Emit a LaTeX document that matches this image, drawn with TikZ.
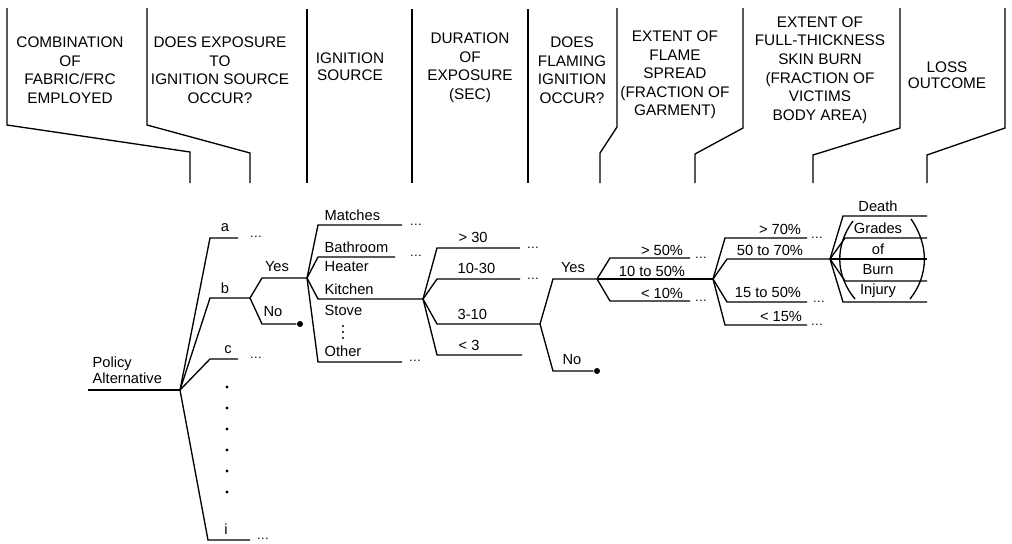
\documentclass[tikz,border=0pt]{standalone}
\usepackage{fontspec}
\setmainfont{Liberation Sans}
\tikzset{
  hdr/.style={font=\fontsize{11.5}{13.9}\selectfont,align=center,inner sep=0pt},
  lbl/.style={font=\fontsize{11}{13}\selectfont,inner sep=0pt},
  more/.style={font=\fontsize{9.5}{11}\selectfont,inner sep=0pt},
  enddot/.style={circle,fill,inner sep=0pt,minimum size=4.5pt},
}
\begin{document}
\begin{tikzpicture}[x=0.75pt,y=-0.75pt,line width=1pt]
\useasboundingbox (0,0) rectangle (1012,543);
% column heads
\draw (7,8) -- (7,125) -- (190,152) -- (190,183);
\draw (147,8) -- (147,125) -- (250,153) -- (250,183);
\draw (307,9) -- (307,183);
\draw (412,9) -- (412,183);
\draw (528,9) -- (528,183);
\draw (617,8) -- (617,127) -- (600,153) -- (600,183);
\draw (743,8) -- (743,128) -- (695,154) -- (695,183);
\draw (900,8) -- (900,128) -- (813,155) -- (813,183);
\draw (1005,8) -- (1005,128) -- (927,155) -- (927,183);
\node[hdr] (hfab) at (70,70) {COMBINATION\\OF\\FABRIC/FRC\\EMPLOYED};
\node[hdr] (hexp) at (220,70) {DOES EXPOSURE\\TO\\IGNITION SOURCE\\OCCUR?};
\node[hdr,font=\fontsize{11.5}{12.8}\selectfont] (hign) at (350,66.5) {IGNITION\\SOURCE};
\node[hdr] (hdur) at (470,67.5) {DURATION\\OF\\EXPOSURE\\(SEC)};
\node[hdr] (hflm) at (572,70) {DOES\\FLAMING\\IGNITION\\OCCUR?};
\node[hdr] (hspr) at (675,75) {EXTENT OF\\FLAME\\SPREAD\\(FRACTION OF\\GARMENT)};
\node[hdr] (hbrn) at (820,70) {EXTENT OF\\FULL-THICKNESS\\SKIN BURN\\(FRACTION OF\\VICTIMS\\BODY AREA)};
\node[hdr,font=\fontsize{11.5}{12}\selectfont] (hout) at (947,75) {LOSS\\OUTCOME};
% policy alternatives
\coordinate (pa) at (88,390);
\coordinate (root) at (180,390);
\coordinate (a1) at (210,238); \coordinate (a2) at (238,238);
\coordinate (b1) at (210,298); \coordinate (b) at (250,298);
\coordinate (c1) at (210,359); \coordinate (c2) at (238,359);
\coordinate (i1) at (208,540); \coordinate (i2) at (250,540);
\node[lbl,align=left,anchor=west,font=\fontsize{11}{12}\selectfont] (policy) at (92,370) {Policy\\Alternative};
\node[lbl] (la) at (225,228) {a};
\node[lbl] (lb) at (225,288) {b};
\node[lbl] (lc) at (228,350) {c};
\node[lbl] (li) at (226,529) {i};
\node[more] (da) at (256,237) {\ldots};
\node[more] (dc) at (256,358) {\ldots};
\node[more] (di) at (263,539) {\ldots};
\draw (pa) -- (root);
\draw (root) -- (a1) -- (a2);
\draw (root) -- (b1) -- (b);
\draw (root) -- (c1) -- (c2);
\draw (root) -- (i1) -- (i2);
\foreach \y in {387,408,429,450,471,492}
  \fill (227,\y) circle[radius=1.2pt];
% exposure
\coordinate (ey1) at (262,278); \coordinate (ign) at (307,278);
\coordinate (en1) at (262,324);
\node[enddot] (en2) at (300,324) {};
\node[lbl] (ly1) at (277,267) {Yes};
\node[lbl] (ln1) at (273,312) {No};
\draw (b) -- (ey1) -- (ign);
\draw (b) -- (en1) -- (en2);
% ignition source
\coordinate (m1) at (318,225); \coordinate (m2) at (402,225);
\coordinate (ba1) at (318,257); \coordinate (ba2) at (395,257);
\coordinate (ki1) at (318,299); \coordinate (dur) at (423,299);
\coordinate (o1) at (318,362); \coordinate (o2) at (402,362);
\node[lbl,anchor=west] (lm) at (324,215) {Matches};
\node[lbl,anchor=west] (lba) at (324,247) {Bathroom};
\node[lbl,anchor=west] (lhe) at (324,267) {Heater};
\node[lbl,anchor=west] (lki) at (324,289) {Kitchen};
\node[lbl,anchor=west] (lst) at (324,310) {Stove};
\node[lbl,anchor=west] (lo) at (324,351) {Other};
\foreach \y in {326,332,338}
  \fill (343,\y) circle[radius=0.9pt];
\node[more] (dm) at (416,225) {\ldots};
\node[more] (dba) at (416,256) {\ldots};
\node[more] (do) at (415,361) {\ldots};
\draw (ign) -- (m1) -- (m2);
\draw (ign) -- (ba1) -- (ba2);
\draw (ign) -- (ki1) -- (dur);
\draw (ign) -- (o1) -- (o2);
% duration
\coordinate (t1) at (437,248); \coordinate (t2) at (520,248);
\coordinate (u1) at (437,279); \coordinate (u2) at (520,279);
\coordinate (v1) at (437,324); \coordinate (flm) at (540,324);
\coordinate (w1) at (437,355); \coordinate (w2) at (522,355);
\node[lbl,anchor=west] (lt) at (458,237) {> 30};
\node[lbl,anchor=west] (lu) at (457,268) {10-30};
\node[lbl,anchor=west] (lv) at (457,314) {3-10};
\node[lbl,anchor=west] (lw) at (458,345) {< 3};
\node[more] (dt) at (533,248) {\ldots};
\node[more] (du) at (533,279) {\ldots};
\draw (dur) -- (t1) -- (t2);
\draw (dur) -- (u1) -- (u2);
\draw (dur) -- (v1) -- (flm);
\draw (dur) -- (w1) -- (w2);
% flaming ignition
\coordinate (fy1) at (553,279); \coordinate (spr) at (597,279);
\coordinate (fn1) at (553,371);
\node[enddot] (fn2) at (597,371) {};
\node[lbl] (ly2) at (573,268) {Yes};
\node[lbl] (ln2) at (572,360) {No};
\draw (flm) -- (fy1) -- (spr);
\draw (flm) -- (fn1) -- (fn2);
% flame spread
\coordinate (s1) at (610,258); \coordinate (s2) at (690,258);
\coordinate (brn) at (713,279);
\coordinate (r1) at (610,301); \coordinate (r2) at (690,301);
\node[lbl] (ls1) at (662,250) {> 50\%};
\node[lbl] (ls2) at (652,271) {10 to 50\%};
\node[lbl] (ls3) at (662,293) {< 10\%};
\node[more] (ds1) at (701,258) {\ldots};
\node[more] (ds3) at (701,301) {\ldots};
\draw (spr) -- (s1) -- (s2);
\draw (spr) -- (brn);
\draw (spr) -- (r1) -- (r2);
% skin burn
\coordinate (g1) at (725,238); \coordinate (g2) at (807,238);
\coordinate (h1) at (727,259); \coordinate (out) at (830,259);
\coordinate (j1) at (727,302); \coordinate (j2) at (807,302);
\coordinate (n1) at (725,325); \coordinate (n2) at (807,325);
\node[lbl] (lg) at (780,229) {> 70\%};
\node[lbl] (lh) at (770,250) {50 to 70\%};
\node[lbl] (lj) at (768,292) {15 to 50\%};
\node[lbl] (ln) at (781,316) {< 15\%};
\node[more] (dg) at (817,238) {\ldots};
\node[more] (dj) at (819,302) {\ldots};
\node[more] (dn) at (817,325) {\ldots};
\draw (brn) -- (g1) -- (g2);
\draw (brn) -- (h1) -- (out);
\draw (brn) -- (j1) -- (j2);
\draw (brn) -- (n1) -- (n2);
% loss outcome
\coordinate (x1) at (843,216); \coordinate (x2) at (927,216);
\coordinate (y1) at (845,238); \coordinate (y2) at (927,238);
\coordinate (z1) at (845,259); \coordinate (z2) at (927,259);
\coordinate (q1) at (845,281); \coordinate (q2) at (927,281);
\coordinate (p1) at (843,302); \coordinate (p2) at (927,302);
\draw (out) -- (x1) -- (x2);
\draw (out) -- (y1) -- (y2);
\draw (out) -- (z1) -- (z2);
\draw (out) -- (q1) -- (q2);
\draw (out) -- (p1) -- (p2);
\draw (853,221) .. controls (835,245) and (835,275) .. (855,299);
\draw (911,219) .. controls (929,245) and (929,275) .. (910,299);
\node[lbl] (lx) at (878,206) {Death};
\node[lbl] (ly) at (878,228) {Grades};
\node[lbl] (lz) at (878,249) {of};
\node[lbl] (lq) at (878,270) {Burn};
\node[lbl] (lp) at (878,291) {Injury};
\end{tikzpicture}
\end{document}
